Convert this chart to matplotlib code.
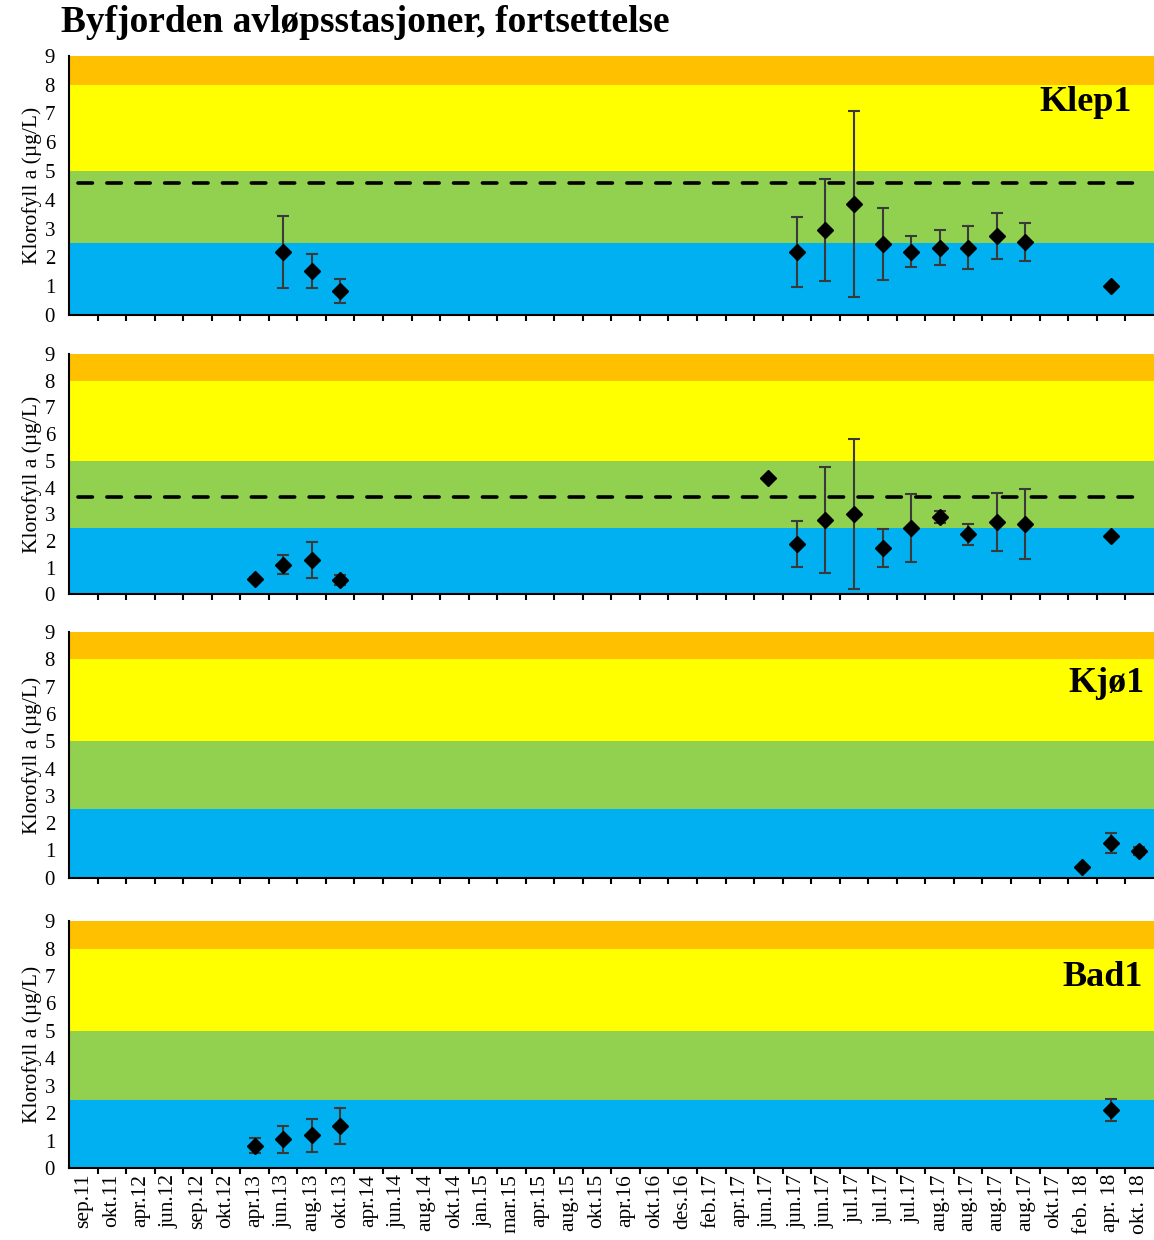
import numpy as np
import matplotlib
matplotlib.use("Agg")
import matplotlib.pyplot as plt
from matplotlib.ticker import FixedLocator

plt.rcParams['font.family'] = ['Liberation Serif', 'DejaVu Serif']

# Kategorier (prøvetakingsdatoer)
datoer = ['sep.11', 'okt.11', 'apr.12', 'jun.12', 'sep.12', 'okt.12', 'apr.13', 'jun.13',
          'aug.13', 'okt.13', 'apr.14', 'jun.14', 'aug.14', 'okt.14', 'jan.15', 'mar.15',
          'apr.15', 'aug.15', 'okt.15', 'apr.16', 'okt.16', 'des.16', 'feb.17', 'apr.17',
          'jun.17', 'jun.17', 'jun.17', 'jul.17', 'jul.17', 'jul.17', 'aug.17', 'aug.17',
          'aug.17', 'aug.17', 'okt.17', 'feb. 18', 'apr. 18', 'okt. 18']

n = np.nan
# Klorofyll a middel og standardavvik per stasjon
klep1 = [n, n, n, n, n, n, n, 2.2, 1.53, 0.82, n, n, n, n, n, n, n, n, n, n, n, n, n, n,
         n, 2.2, 2.96, 3.86, 2.48, 2.2, 2.34, 2.34, 2.75, 2.55, n, n, 1.02, n]
klep1_sd = [n, n, n, n, n, n, n, 1.25, 0.58, 0.42, n, n, n, n, n, n, n, n, n, n, n, n, n, n,
            n, 1.22, 1.77, 3.23, 1.25, 0.55, 0.62, 0.76, 0.8, 0.66, n, n, 0, n]

st2 = [n, n, n, n, n, n, 0.59, 1.12, 1.28, 0.55, n, n, n, n, n, n, n, n, n, n, n, n, n, n,
       4.35, 1.88, 2.78, 3.0, 1.73, 2.48, 2.91, 2.25, 2.7, 2.63, n, n, 2.18, n]
st2_sd = [n, n, n, n, n, n, 0.08, 0.37, 0.67, 0.18, n, n, n, n, n, n, n, n, n, n, n, n, n, n,
          0, 0.86, 1.98, 2.8, 0.72, 1.28, 0.22, 0.4, 1.08, 1.3, n, n, 0, n]

kjo1 = [n] * 35 + [0.4, 1.27, 0.98]
kjo1_sd = [n] * 35 + [0, 0.36, 0.16]

bad1 = [n, n, n, n, n, n, 0.83, 1.05, 1.2, 1.55, n, n, n, n, n, n, n, n, n, n, n, n, n, n,
        n, n, n, n, n, n, n, n, n, n, n, n, 2.11, n]
bad1_sd = [n, n, n, n, n, n, 0.28, 0.48, 0.6, 0.65, n, n, n, n, n, n, n, n, n, n, n, n, n, n,
           n, n, n, n, n, n, n, n, n, n, n, n, 0.4, n]

navn = ['Klep1', '', 'Kjø1', 'Bad1']
referanse = [4.6, 3.65, None, None]
verdier = [klep1, st2, kjo1, bad1]
avvik = [klep1_sd, st2_sd, kjo1_sd, bad1_sd]

# Tilstandsklasser (fargebånd)
grenser = [0, 2.5, 5, 8, 9]
farger = ['#00B0F0', '#92D050', '#FFFF00', '#FFC000']

fig = plt.figure(figsize=(11.54, 12.4), dpi=100)
# [venstre, bunn, bredde, høyde] for hvert panel
plass = [[0.0598, 0.746, 0.94, 0.2089],
         [0.0598, 0.5206, 0.94, 0.194],
         [0.0598, 0.2922, 0.94, 0.198],
         [0.0598, 0.0578, 0.94, 0.1994]]
tekst_y = [0.82, 0.0, 0.79, 0.773]
tekst_x = [0.98, 0.98, 0.991, 0.99]

x = np.arange(len(datoer))
for i in range(4):
    ax = fig.add_axes(plass[i])
    for j in range(len(farger)):
        ax.axhspan(grenser[j], grenser[j + 1], color=farger[j], lw=0, zorder=0)
    if referanse[i] is not None:
        ax.plot([x[0] - 0.2, x[-1]], [referanse[i]] * 2, color='black', lw=2.6,
                dashes=(4.0, 4.0), dash_capstyle='round', zorder=2)
    v = np.array(verdier[i], dtype=float)
    s = np.array(avvik[i], dtype=float)
    ok = ~np.isnan(v)
    ax.errorbar(x[ok], v[ok], yerr=s[ok], fmt='none', ecolor='#3a3a3a', elinewidth=1.5,
                capsize=4.5, capthick=1.5, zorder=3)
    ax.plot(x[ok], v[ok], 'D', color='black', markersize=8.5, zorder=4)
    ax.set_xlim(-0.5, len(datoer) - 0.5)
    ax.set_ylim(0, 9)
    ax.set_yticks(range(10))
    ax.tick_params(axis='y', length=0, pad=10, labelsize=15)
    ax.xaxis.set_major_locator(FixedLocator(x))
    ax.xaxis.set_minor_locator(FixedLocator(np.arange(0.5, len(datoer) - 0.5, 1)))
    ax.tick_params(axis='x', which='major', length=0, pad=4)
    ax.tick_params(axis='x', which='minor', length=4, width=1.5, direction='out')
    if i == 3:
        ax.set_xticklabels(datoer, rotation=90, fontsize=15.5)
    else:
        ax.set_xticklabels([])
    for side in ['top', 'right']:
        ax.spines[side].set_visible(False)
    for side in ['left', 'bottom']:
        ax.spines[side].set_linewidth(1.5)
    ax.set_ylabel('Klorofyll a (µg/L)', fontsize=15.5, labelpad=2)
    if navn[i]:
        ax.text(tekst_x[i], tekst_y[i], navn[i], transform=ax.transAxes, ha='right',
                va='center', fontsize=26, fontweight='bold')

fig.text(0.053, 0.982, 'Byfjorden avløpsstasjoner, fortsettelse', fontsize=27,
         fontweight='bold', va='center', ha='left')

fig.savefig('out.png', dpi=100)
